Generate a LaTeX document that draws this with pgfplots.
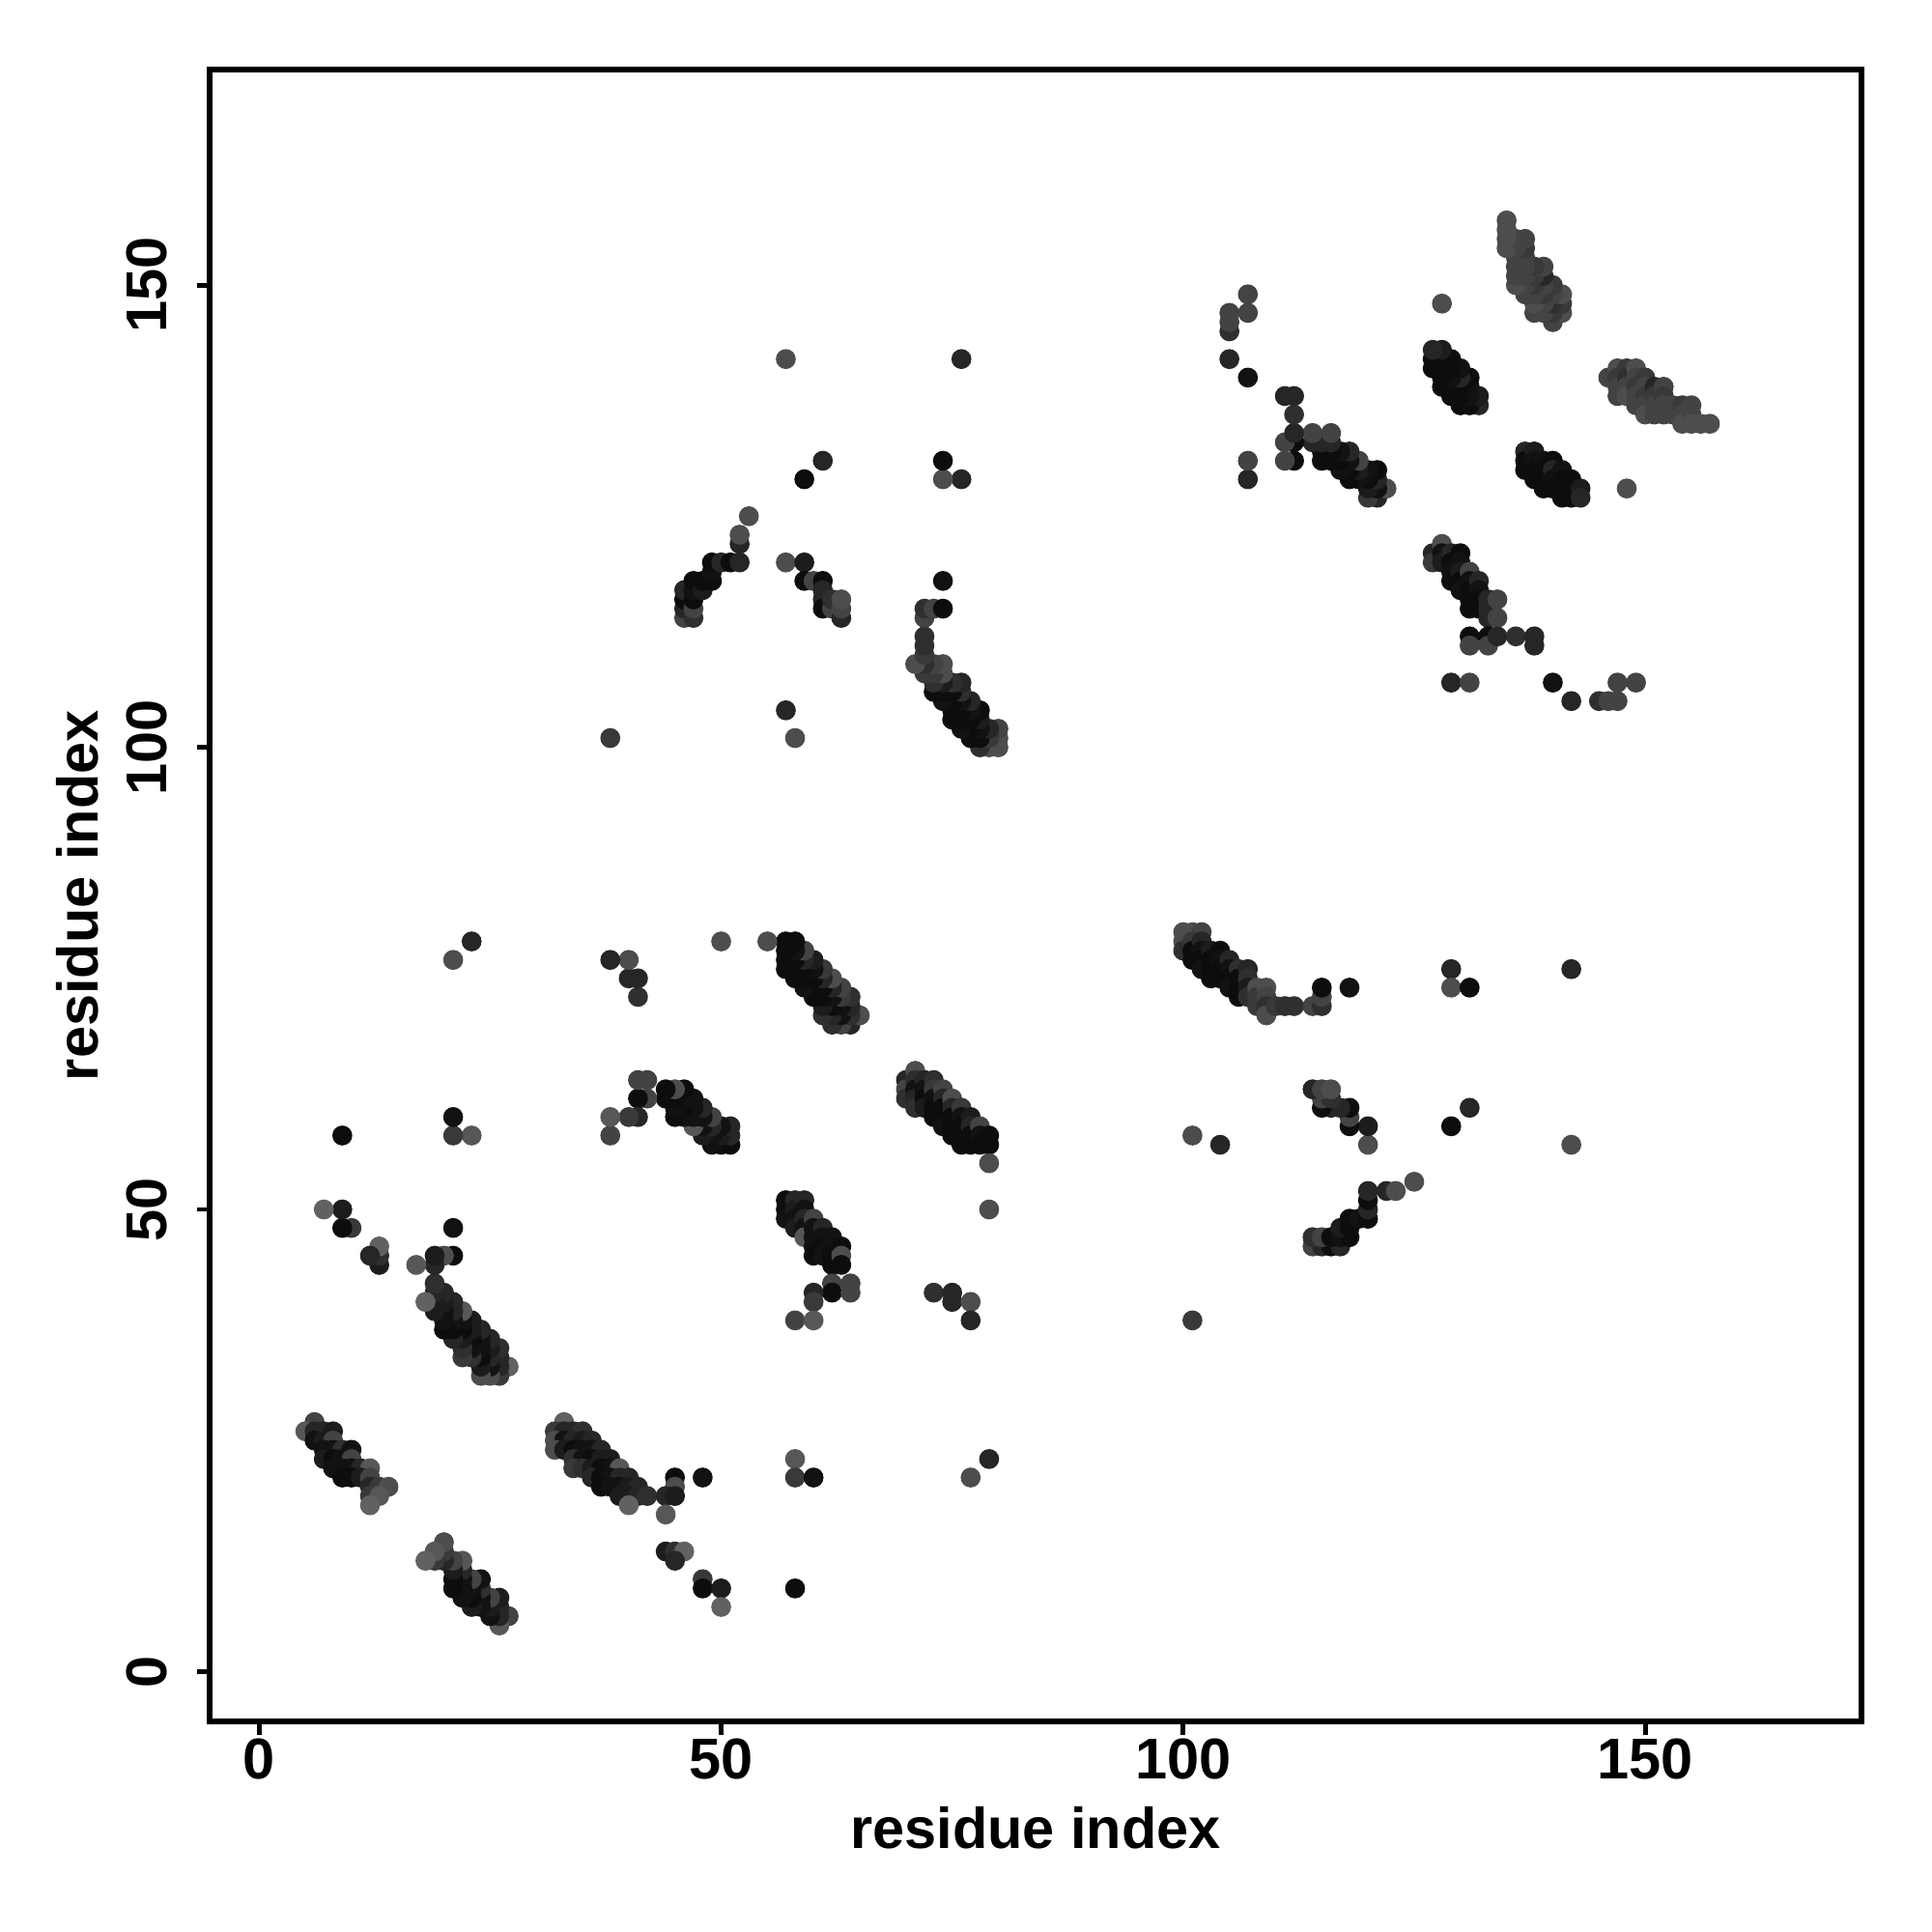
\documentclass[border=0pt]{standalone}
\usepackage{pgfplots}
\pgfplotsset{compat=1.18}
\usepackage{pgfplotstable}
\usepackage{fontspec}
\setmainfont{Liberation Sans}

\pgfplotstableread{
a b c
27 6 0.6
26 5 0.8
26 6 0.3
26 7 0.3
26 8 0.2
25 6 0.1
25 7 0.2
25 8 0.6
24 7 0.1
24 8 0.1
24 9 0.4
24 10 0.1
23 7 0.2
23 8 0.05
23 9 0.1
23 10 0.6
22 8 0.1
22 9 0.1
22 10 0.1
22 11 0.3
22 12 0.8
21 9 0.05
21 10 0.05
21 11 0.2
21 12 0.6
20 12 0.3
20 13 0.5
20 14 0.7
19 12 0.5
19 13 0.8
18 12 0.9
33 27 0.9
32 26 0.5
33 26 0.3
34 26 0.3
35 26 0.4
32 25 0.7
33 25 0.1
34 25 0.3
35 25 0.2
36 25 0.3
32 24 0.7
33 24 0.2
34 24 0.05
35 24 0.1
36 24 0.1
37 24 0.3
34 23 0.4
35 23 0.1
36 23 0.05
37 23 0.2
38 23 0.2
34 22 0.5
35 22 0.4
36 22 0.2
37 22 0.05
38 22 0.1
39 22 0.8
36 21 0.3
37 21 0.05
38 21 0.1
39 21 0.3
40 21 0.3
45 21 0.05
48 21 0.1
37 20 0.05
38 20 0.1
39 20 0.1
40 20 0.2
41 20 0.3
45 20 0.7
39 19 0.2
40 19 0.2
41 19 0.3
42 19 0.4
44 19 0.3
45 19 0.2
40 18 0.9
44 17 0.8
44 13 0.2
45 13 0.4
46 13 0.9
45 12 0.3
48 10 0.5
48 9 0.05
50 9 0.2
50 7 0.9
58 23 0.8
58 21 0.5
60 21 0.1
58 9 0.05
57 51 0.05
57 50 0.05
57 49 0.1
58 51 0.3
58 50 0.2
58 49 0.1
58 48 0.2
59 51 0.3
59 50 0.1
59 49 0.3
59 48 0.1
59 47 0.8
60 49 0.6
60 48 0.1
60 47 0.1
60 46 0.1
60 45 0.05
61 48 0.3
61 47 0.1
61 46 0.05
61 45 0.1
62 47 0.1
62 46 0.1
62 45 0.05
62 44 0.05
63 46 0.05
63 45 0.7
63 44 0.05
62 42 0.6
62 41 0.05
64 42 0.6
64 41 0.6
60 41 0.3
60 40 0.5
58 38 0.6
60 38 0.8
70 64 0.3
70 63 0.6
70 62 0.4
71 65 0.7
71 64 0.4
71 63 0.1
71 62 0.3
71 61 0.4
72 64 0.3
72 63 0.1
72 62 0.05
72 61 0.2
73 64 0.4
73 63 0.5
73 62 0.1
73 61 0.05
73 60 0.05
74 63 0.6
74 62 0.3
74 61 0.05
74 60 0.05
74 59 0.1
75 62 0.7
75 61 0.3
75 60 0.05
75 59 0.05
75 58 0.05
76 61 0.5
76 60 0.1
76 59 0.05
76 58 0.05
76 57 0.05
77 60 0.2
77 59 0.3
77 58 0.05
77 57 0.05
78 59 0.6
78 58 0.1
78 57 0.05
79 58 0.05
79 57 0.05
79 55 0.7
79 50 0.7
73 41 0.4
75 41 0.3
75 40 0.3
77 40 0.7
77 38 0.3
79 23 0.3
77 21 0.7
114 46 0.6
115 46 0.3
116 46 0.05
117 46 0.3
114 47 0.4
115 47 0.6
116 47 0.05
117 47 0.1
118 47 0.05
117 48 0.2
118 48 0.05
118 49 0.05
119 49 0.1
120 49 0.05
120 50 0.3
120 51 0.05
120 52 0.3
122 52 0.3
123 52 0.7
125 53 0.7
120 57 0.7
120 59 0.2
118 59 0.05
118 60 0.6
118 61 0.05
117 61 0.3
116 61 0.3
115 61 0.05
115 62 0.6
116 62 0.4
114 63 0.3
115 63 0.6
116 63 0.7
142 57 0.7
131 61 0.3
129 59 0.05
104 57 0.3
101 58 0.7
101 38 0.5
100 80 0.7
100 79 0.7
101 80 0.7
102 80 0.6
100 78 0.4
101 79 0.5
101 78 0.05
101 77 0.05
102 79 0.3
102 78 0.1
102 77 0.05
102 76 0.1
103 78 0.2
103 77 0.05
103 76 0.05
103 75 0.05
104 78 0.05
104 77 0.1
104 76 0.05
104 75 0.05
105 77 0.3
105 76 0.1
105 75 0.05
105 74 0.1
106 76 0.4
106 75 0.05
106 74 0.05
106 73 0.05
107 76 0.3
107 75 0.4
107 74 0.2
107 73 0.4
108 74 0.7
108 73 0.5
108 72 0.5
109 74 0.7
109 73 0.6
109 72 0.4
109 71 0.7
110 72 0.5
111 72 0.4
112 72 0.4
114 72 0.6
115 72 0.4
115 73 0.6
115 74 0.05
118 74 0.1
129 76 0.3
129 74 0.7
131 74 0.05
142 76 0.3
127 121 0.3
127 120 0.5
128 122 0.7
128 121 0.1
128 120 0.2
129 121 0.3
129 120 0.05
129 119 0.1
129 118 0.05
130 121 0.05
130 120 0.1
130 119 0.2
130 118 0.05
130 117 0.1
131 119 0.6
131 118 0.1
131 117 0.05
131 116 0.05
131 115 0.05
132 118 0.3
132 117 0.1
132 116 0.05
132 115 0.05
133 116 0.3
133 115 0.3
133 114 0.3
134 116 0.6
134 114 0.6
131 112 0.05
131 111 0.6
133 112 0.05
133 111 0.6
134 112 0.3
136 112 0.4
138 112 0.3
138 111 0.3
129 107 0.3
131 107 0.6
140 107 0.1
142 105 0.3
145 105 0.4
146 105 0.6
147 105 0.6
147 107 0.6
149 107 0.6
137 132 0.3
137 131 0.05
137 130 0.05
138 132 0.2
138 131 0.1
138 130 0.05
138 129 0.05
139 131 0.1
139 130 0.05
139 129 0.05
139 128 0.05
140 131 0.05
140 130 0.3
140 129 0.1
140 128 0.05
141 130 0.1
141 129 0.05
141 128 0.05
141 127 0.05
142 129 0.05
142 128 0.05
142 127 0.05
143 128 0.2
143 127 0.3
146 140 0.6
147 141 0.7
147 140 0.5
147 139 0.6
147 138 0.6
148 141 0.5
148 140 0.4
148 139 0.6
148 138 0.7
149 141 0.7
149 140 0.6
149 139 0.5
149 138 0.6
149 137 0.6
150 140 0.5
150 139 0.6
150 138 0.5
150 137 0.6
150 136 0.7
151 139 0.3
151 138 0.5
151 137 0.6
151 136 0.6
152 139 0.6
152 138 0.5
152 137 0.6
152 136 0.6
153 137 0.6
153 136 0.6
154 137 0.5
154 136 0.6
154 135 0.7
155 137 0.6
155 136 0.6
155 135 0.7
156 135 0.7
157 135 0.7
148 128 0.7
}\contacts

\begin{document}
\begin{tikzpicture}
\useasboundingbox (0,0) rectangle (504pt,504pt);
\begin{axis}[
  at={(54.7pt,54.9pt)}, anchor=south west,
  width=430.9pt, height=430.9pt, scale only axis,
  xmin=-5.35, xmax=173.4, ymin=-5.4, ymax=173.3,
  axis line style={line width=1.5pt},
  tick style={line width=1.2pt, black},
  tick align=outside, major tick length=3.4pt,
  xtick={0,50,100,150}, xticklabels={0,50,100,150},
  ytick={0,50,100,150}, yticklabels={0,50,100,150},
  xtick pos=bottom, ytick pos=left,
  ticklabel style={font=\fontsize{15}{18}\selectfont\bfseries},
  xticklabel style={anchor=north, inner sep=0pt, yshift=-1pt},
  yticklabel style={rotate=90, anchor=south, inner sep=0pt, yshift=7.4pt},
  xlabel={residue index}, ylabel={residue index},
  label style={font=\fontsize{15}{18}\selectfont\bfseries},
  xlabel style={at={(axis description cs:0.5,0)}, anchor=center, yshift=-27.7pt},
  ylabel style={at={(axis description cs:0,0.5)}, anchor=center, yshift=34.5pt},
  colormap={gr}{rgb255=(8,8,8) rgb255=(106,106,106)},
  point meta min=0, point meta max=1,
  clip=true,
]
\addplot[scatter, only marks, mark=*, mark size=2.4pt, point meta=explicit,
  scatter/use mapped color={draw=mapped color, fill=mapped color}]
  table[x=a, y=b, meta=c] {\contacts};
\addplot[scatter, only marks, mark=*, mark size=2.4pt, point meta=explicit,
  scatter/use mapped color={draw=mapped color, fill=mapped color}]
  table[x=b, y=a, meta=c] {\contacts};
\end{axis}
\end{tikzpicture}
\end{document}
